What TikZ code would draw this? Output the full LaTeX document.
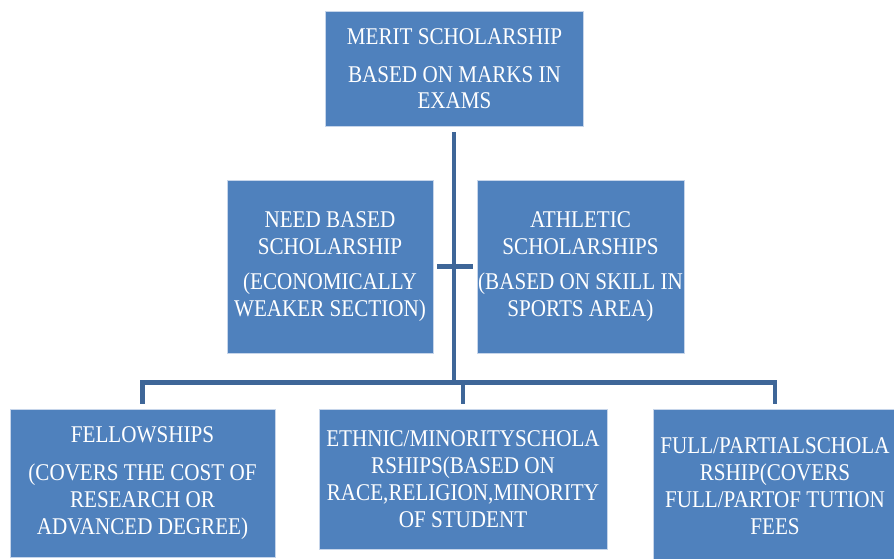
\documentclass[tikz,border=0pt]{standalone}
\usepackage{fontspec}
\setmainfont{Liberation Serif}[FakeStretch=0.88]
\definecolor{boxfill}{HTML}{4F81BD}
\definecolor{boxedge}{HTML}{C6D5EA}
\definecolor{linkblue}{HTML}{3E6698}
\begin{document}
\begin{tikzpicture}[x=1pt,y=-1pt,
  card/.style={draw=boxedge, line width=0.8pt, fill=boxfill, text=white,
    align=center, inner sep=0pt, font=\fontsize{24}{27}\selectfont},
  conn/.style={draw=linkblue, line width=4.4pt, line join=miter}]
\useasboundingbox (0,0) rectangle (894,559);
\clip (0,0) rectangle (894,559);
\fill[white] (0,0) rectangle (894,559);

% top level
\node[card, minimum width=258pt, minimum height=115pt,
  font=\fontsize{24}{25.5}\selectfont] (top) at (454.5,68.5)
  {MERIT SCHOLARSHIP\\[13pt]BASED ON MARKS IN\\EXAMS};

% second level
\node[card, minimum width=206pt, minimum height=173pt] (need) at (330,266.5)
  {NEED BASED\\SCHOLARSHIP\\[8pt](ECONOMICALLY\\WEAKER SECTION)};
\node[card, minimum width=207pt, minimum height=173pt] (athl) at (580.5,266.5)
  {ATHLETIC\\SCHOLARSHIPS\\[8pt](BASED ON SKILL IN\\SPORTS AREA)};

% third level
\node[card, minimum width=265pt, minimum height=148pt] (fell) at (142.5,483)
  {FELLOWSHIPS\\[11pt](COVERS THE COST OF\\RESEARCH OR\\ADVANCED DEGREE)};
\node[card, minimum width=288pt, minimum height=140pt] (ethnic) at (463,479)
  {ETHNIC/MINORITYSCHOLA\\RSHIPS(BASED ON\\RACE,RELIGION,MINORITY\\OF STUDENT};
\node[card, minimum width=244pt, minimum height=154pt] (full) at (775,486)
  {FULL/PARTIALSCHOLA\\RSHIP(COVERS\\FULL/PARTOF TUTION\\FEES};

% connectors
\coordinate (hub) at (454,382.5);
\draw[conn] ([yshift=-6pt]top.south -| hub) -- (hub);
\draw[conn] ([xshift=4pt]need.east) -- ([xshift=-4pt]athl.west);
\draw[conn] ([yshift=5pt]fell.north) |- (hub) -| ([yshift=5pt]full.north);
\draw[conn] (ethnic.north |- hub) -- ([yshift=5pt]ethnic.north);
\end{tikzpicture}
\end{document}
